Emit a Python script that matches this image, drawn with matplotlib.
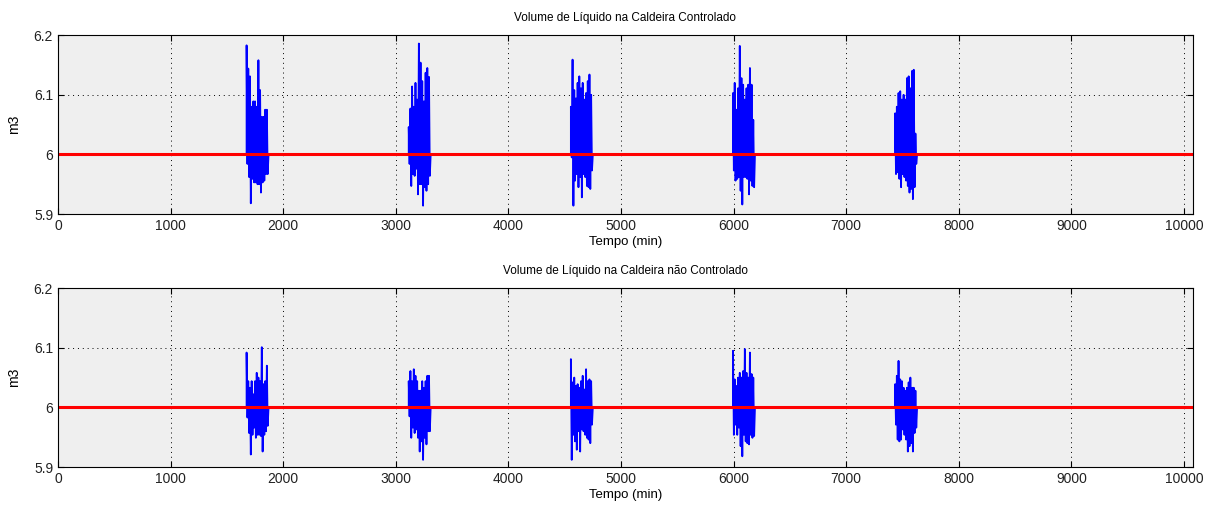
import numpy as np
import matplotlib
matplotlib.use("Agg")
import matplotlib.pyplot as plt

plt.rcParams["font.family"] = ["Liberation Sans", "DejaVu Sans"]
plt.rcParams["font.size"] = 8

# time axis (min) and setpoint
T_MAX = 10080
SETPOINT = 6.0
burst_start = [1675, 3115, 4555, 5995, 7435]
burst_len = 195

# controlled level: upper / lower peaks per disturbance window (m3)
ctrl_hi = [
    [6.183, 6.144, 6.131, 6.080, 6.089, 6.089, 6.080, 6.158, 6.108, 6.063, 6.063, 6.075, 6.075],
    [6.046, 6.077, 6.114, 6.080, 6.120, 6.092, 6.186, 6.154, 6.123, 6.089, 6.137, 6.145, 6.130],
    [6.080, 6.159, 6.108, 6.094, 6.120, 6.131, 6.111, 6.120, 6.092, 6.103, 6.123, 6.134, 6.100],
    [6.103, 6.120, 6.075, 6.111, 6.182, 6.128, 6.117, 6.092, 6.111, 6.117, 6.145, 6.117, 6.058],
    [6.069, 6.080, 6.103, 6.106, 6.092, 6.100, 6.092, 6.128, 6.131, 6.111, 6.140, 6.142, 6.035],
]
ctrl_lo = [
    [5.984, 5.962, 5.918, 5.959, 5.953, 5.953, 5.950, 5.950, 5.936, 5.953, 5.956, 5.967, 5.967],
    [5.984, 5.947, 5.967, 5.964, 5.976, 5.933, 5.950, 5.950, 5.914, 5.945, 5.939, 5.950, 5.964],
    [5.995, 5.914, 5.956, 5.967, 5.945, 5.962, 5.928, 5.967, 5.962, 5.947, 5.945, 5.942, 5.973],
    [5.973, 5.956, 5.959, 5.962, 5.939, 5.916, 5.962, 5.962, 5.959, 5.933, 5.956, 5.947, 5.945],
    [5.967, 5.970, 5.959, 5.945, 5.967, 5.962, 5.956, 5.947, 5.936, 5.942, 5.925, 5.945, 5.984],
]

# uncontrolled level
open_hi = [
    [6.092, 6.044, 6.033, 6.044, 6.022, 6.044, 6.058, 6.050, 6.044, 6.101, 6.039, 6.044, 6.070],
    [6.044, 6.061, 6.044, 6.064, 6.053, 6.044, 6.028, 6.028, 6.044, 6.033, 6.044, 6.053, 6.053],
    [6.081, 6.042, 6.050, 6.036, 6.039, 6.033, 6.044, 6.053, 6.030, 6.064, 6.044, 6.047, 6.044],
    [6.095, 6.047, 6.036, 6.050, 6.058, 6.050, 6.061, 6.098, 6.058, 6.050, 6.092, 6.056, 6.050],
    [6.039, 6.053, 6.078, 6.047, 6.044, 6.033, 6.028, 6.033, 6.042, 6.050, 6.033, 6.033, 6.028],
]
open_lo = [
    [5.983, 5.957, 5.921, 5.954, 5.966, 5.949, 5.954, 5.954, 5.952, 5.926, 5.954, 5.960, 5.969],
    [5.985, 5.949, 5.966, 5.957, 5.963, 5.949, 5.926, 5.943, 5.912, 5.949, 5.938, 5.960, 5.960],
    [5.912, 5.954, 5.943, 5.929, 5.960, 5.926, 5.963, 5.960, 5.954, 5.949, 5.946, 5.940, 5.971],
    [5.954, 5.971, 5.954, 5.966, 5.935, 5.918, 5.954, 5.943, 5.940, 5.938, 5.954, 5.949, 5.952],
    [5.971, 5.946, 5.943, 5.946, 5.963, 5.954, 5.946, 5.926, 5.935, 5.940, 5.926, 5.957, 5.966],
]

titles = ["Volume de Líquido na Caldeira Controlado",
          "Volume de Líquido na Caldeira não Controlado"]


def build_series(hi, lo):
    """Flat at setpoint, oscillating between the peaks inside each window."""
    t, v = [0.0], [SETPOINT]
    for t0, up, dn in zip(burst_start, hi, lo):
        n = len(up)
        step = burst_len / n
        t.append(t0)
        v.append(SETPOINT)
        for i in range(n):
            t += [t0 + i * step, t0 + (i + 0.5) * step]
            v += [up[i], dn[i]]
        t.append(t0 + burst_len)
        v.append(SETPOINT)
    t.append(T_MAX)
    v.append(SETPOINT)
    return np.array(t), np.array(v)


fig = plt.figure(figsize=(12.13, 5.08), dpi=100)
boxes = [[0.0478, 0.5787, 0.9357, 0.352], [0.0478, 0.0807, 0.9357, 0.352]]

for box, title, hi, lo in zip(boxes, titles, [ctrl_hi, open_hi], [ctrl_lo, open_lo]):
    ax = fig.add_axes(box)
    ax.set_facecolor("#efefef")
    t, v = build_series(hi, lo)
    ax.plot(t, v, color="#0000ff", lw=1.3)
    ax.plot([0, T_MAX], [SETPOINT, SETPOINT], color="#ff0000", lw=2.2)
    ax.set_xlim(0, T_MAX)
    ax.set_ylim(5.9, 6.2)
    ax.set_xticks(np.arange(0, 10001, 1000))
    ax.set_yticks([5.9, 6.0, 6.1, 6.2])
    ax.set_yticklabels(["5.9", "6", "6.1", "6.2"])
    ax.grid(True, color="black", ls=(0, (1, 4)), lw=0.7)
    ax.tick_params(direction="in", top=True, right=True, length=4,
                   labelsize=10, labelcolor="#222222")
    for s in ax.spines.values():
        s.set_linewidth(0.8)
    ax.set_title(title, fontsize=8.5, pad=10)
    ax.set_xlabel("Tempo (min)", fontsize=9.5, labelpad=2)
    ax.set_ylabel("m3", fontsize=10, labelpad=9)

fig.savefig("out.png", dpi=100)
